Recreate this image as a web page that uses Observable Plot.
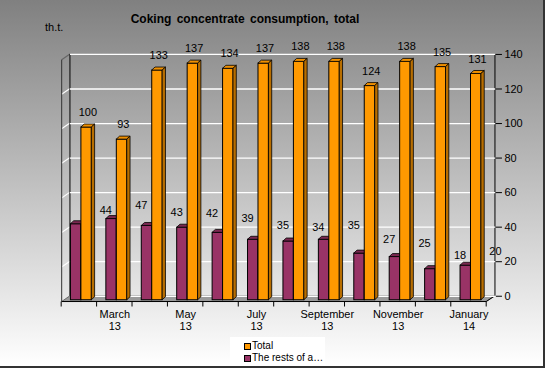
<!DOCTYPE html>
<html><head><meta charset="utf-8">
<script src="https://cdn.jsdelivr.net/npm/d3@7"></script>
<script src="https://cdn.jsdelivr.net/npm/@observablehq/plot@0.6"></script>
<style>
html,body{margin:0;padding:0;background:#fff;}
#chart{position:relative;width:543px;height:366px;background:linear-gradient(#808080,#ffffff);border-right:2px solid #333;border-bottom:2px solid #333;font-family:"Liberation Sans",Arial,sans-serif;overflow:hidden;color:#000}
#title{position:absolute;left:0;top:12px;width:490px;text-align:center;font-weight:bold;font-size:12px;word-spacing:2px}
#unit{position:absolute;left:45px;top:21px;font-size:11px}
#plot{position:absolute;left:0;top:40px}
#legend{position:absolute;left:230px;top:337px;width:95px;height:28px;background:#fff;font-size:10px;line-height:12px;padding-top:3px;box-sizing:border-box}
.item{display:flex;align-items:center;padding-left:14px;white-space:nowrap}
.sw{width:5px;height:5px;border:1px solid #000;margin-right:1px}
</style></head>
<body>
<div id="chart">
  <div id="title"></div>
  <div id="unit"></div>
  <div id="plot"></div>
  <div id="legend"></div>
</div>
<script>
const titleText = "Coking concentrate consumption, total";
const unitText = "th.t.";
const months = ["Feb 13","Mar 13","Apr 13","May 13","Jun 13","Jul 13","Aug 13","Sep 13","Oct 13","Nov 13","Dec 13","Jan 14"];
const tickLabels = ["","March\n13","","May\n13","","July\n13","","September\n13","","November\n13","","January\n14"];
const total = [100,93,133,137,134,137,138,138,124,138,135,131];
const rests = [44,47,43,42,39,35,34,35,27,25,18,20];
const seriesNames = ["Total","The rests of a…"];
const colors = ["#ff9900","#993366"];
const yTicks = [0,20,40,60,80,100,120,140];

document.getElementById("title").textContent = titleText;
document.getElementById("unit").textContent = unitText;
const leg = document.getElementById("legend");
seriesNames.forEach((n,i)=>{
  const it = document.createElement("div"); it.className="item";
  const sw = document.createElement("div"); sw.className="sw"; sw.style.background=colors[i];
  const t = document.createElement("span"); t.textContent=n;
  it.appendChild(sw); it.appendChild(t); leg.appendChild(it);
});

const data = months.map((m,i)=>({month:m, total: total[i], rests: rests[i]}));
const labelOf = new Map(months.map((m,i)=>[m,tickLabels[i]]));

const W = 545, H = 295, ML = 63.4, MR = 55, MT = 18, MB = 34.3;
const BACK = {dx: 6.8, dy: -4};

const chart = Plot.plot({
  width: W, height: H,
  marginLeft: ML, marginRight: MR, marginTop: MT, marginBottom: MB,
  style: {background: "transparent", fontFamily: "'Liberation Sans', Arial, sans-serif", fontSize: "11px", color: "#000", overflow: "visible"},
  x: {type: "band", domain: months, paddingInner: 0.41, paddingOuter: 0.205, round: false, axis: null},
  y: {domain: [0, 140], axis: null},
  marks: [
    Plot.ruleY(yTicks, {stroke: "#ffffff", strokeWidth: 1.3, dx: BACK.dx, dy: BACK.dy}),
    Plot.axisY({anchor: "right", ticks: yTicks, tickSize: 6, tickPadding: 3, dx: BACK.dx, dy: BACK.dy, fontSize: 11, label: null}),
    Plot.axisX({anchor: "bottom", tickSize: 0, tickPadding: 9, tickFormat: d => labelOf.get(d), lineHeight: 1.12, dx: -2, fontSize: 11, label: null}),
    Plot.barY(data, {x: "month", y: "rests", fill: colors[1], stroke: "#000", strokeWidth: 1, insetRight: 10.5, className: "bar-purple"}),
    Plot.barY(data, {x: "month", y: "total", fill: colors[0], stroke: "#000", strokeWidth: 1, insetLeft: 10.5, className: "bar-orange"}),
    Plot.text(data, {x: "month", y: "total", text: d => String(d.total), dx: 6.5, dy: -15, fontSize: 11}),
    Plot.text(data, {x: "month", y: "rests", text: d => String(d.rests), dx: 24.5, dy: -14, fontSize: 11})
  ]
});

// 3D decorations using Plot's own scales
const ysd = chart.scale("y"), xsd = chart.scale("x");
const y = d3.scaleLinear(ysd.domain, ysd.range);
const xb = d3.scaleBand(xsd.domain, xsd.range).paddingInner(xsd.paddingInner).paddingOuter(xsd.paddingOuter).align(xsd.align ?? 0.5);
const X0 = xsd.range[0], X1 = xsd.range[1], step = xb.step();
const F = {dx: -1.5, dy: 1.8};
const svg = d3.select(chart.tagName.toLowerCase() === "svg" ? chart : chart.querySelector("svg"));
const deco = svg.insert("g", ":first-child").attr("class", "walls");
const y0 = y(0), yTop = y(140);
// floor
deco.append("polygon")
  .attr("points", [[X0+F.dx, y0+F.dy],[X1-2, y0+F.dy],[X1+BACK.dx, y0+BACK.dy],[X0+BACK.dx, y0+BACK.dy]].map(p=>p.join(",")).join(" "))
  .attr("fill", "#9a9a9a").attr("stroke", "#555").attr("stroke-width", 0.8);
// left wall grid diagonals
yTicks.slice(1).forEach(v=>{
  deco.append("line").attr("x1", X0+F.dx).attr("y1", y(v)+F.dy).attr("x2", X0+BACK.dx).attr("y2", y(v)+BACK.dy)
    .attr("stroke", v===140 ? "#666" : "#fff").attr("stroke-width", 1.2);
});
// back-left edge
deco.append("line").attr("x1", X0+BACK.dx).attr("x2", X0+BACK.dx).attr("y1", yTop+BACK.dy).attr("y2", y0+BACK.dy).attr("stroke", "#000");
// front-left edge
deco.append("line").attr("x1", X0+F.dx).attr("x2", X0+F.dx).attr("y1", yTop+F.dy).attr("y2", y0+F.dy).attr("stroke", "#333");
// right axis line
deco.append("line").attr("x1", X1+BACK.dx).attr("x2", X1+BACK.dx).attr("y1", yTop+BACK.dy).attr("y2", y0+BACK.dy).attr("stroke", "#000");
// bottom slant at right
deco.append("line").attr("x1", X1-2).attr("y1", y0+F.dy).attr("x2", X1+BACK.dx).attr("y2", y0+BACK.dy).attr("stroke", "#000");
// front floor edge
deco.append("line").attr("x1", X0+F.dx).attr("x2", X1-2).attr("y1", y0+F.dy).attr("y2", y0+F.dy).attr("stroke", "#000");
// category boundary ticks
for (let k = 0; k <= months.length; k++) {
  const xx = X0 - 2 + k*step;
  deco.append("line").attr("x1", xx).attr("x2", xx).attr("y1", y0+F.dy).attr("y2", y0+F.dy+5).attr("stroke", "#000");
}

// bar top and side faces
const D = {x: 3.3, y: -3};
function faces(cls, topFill, sideFill){
  svg.selectAll("g." + cls + " rect").each(function(){
    const r = d3.select(this);
    const x = +r.attr("x"), yy = +r.attr("y"), w = +r.attr("width"), h = +r.attr("height");
    const g = d3.select(this.parentNode);
    g.append("polygon").attr("points", [[x,yy],[x+D.x,yy+D.y],[x+w+D.x,yy+D.y],[x+w,yy]].map(p=>p.join(",")).join(" "))
      .attr("fill", topFill).attr("stroke", "#000").attr("stroke-width", 0.8);
    g.append("polygon").attr("points", [[x+w,yy],[x+w+D.x,yy+D.y],[x+w+D.x,yy+h+D.y],[x+w,yy+h]].map(p=>p.join(",")).join(" "))
      .attr("fill", sideFill).attr("stroke", "#000").attr("stroke-width", 0.8);
  });
}
faces("bar-purple", "#7a2850", "#662244");
faces("bar-orange", "#f09000", "#b86e00");

document.getElementById("plot").appendChild(chart);
</script>
</body></html>
